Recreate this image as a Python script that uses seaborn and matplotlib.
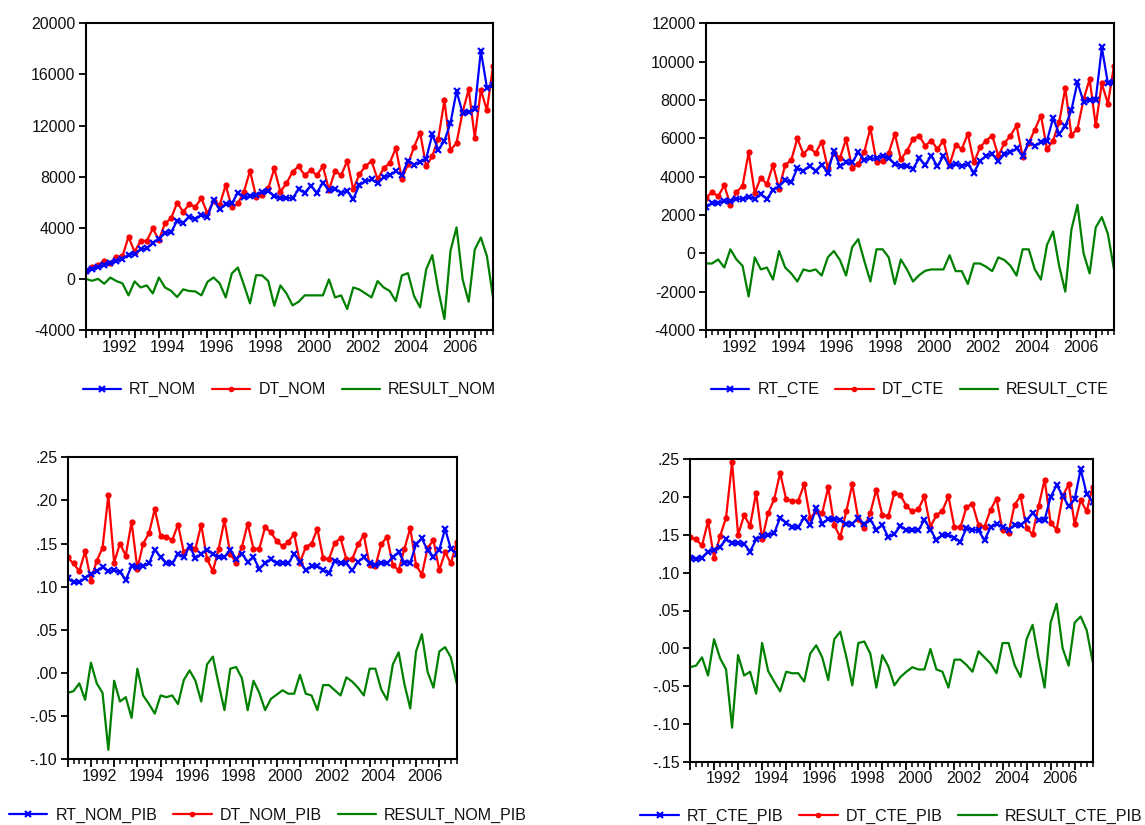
import numpy as np
import pandas as pd
import matplotlib
matplotlib.use("Agg")
import matplotlib.pyplot as plt
import seaborn as sns
from matplotlib.lines import Line2D
from matplotlib.ticker import FuncFormatter

# Quarterly sample 1991Q1 - 2007Q4
quarters = pd.period_range("1991Q1", "2007Q4", freq="Q")

# Nominal revenue, expenditure and balance
rt_nom = [600, 780, 950, 1060, 1250, 1420, 1550, 1900, 1950, 2320,
          2380, 2820, 3150, 3600, 3650, 4550, 4400, 4870, 4660, 5020,
          4850, 6200, 5430, 5850, 5900, 6750, 6380, 6450, 6600, 6800,
          6900, 6450, 6330, 6340, 6300, 7020, 6750, 7280, 6750, 7520,
          6950, 7020, 6750, 6850, 6250, 7350, 7630, 7780, 7500, 7950,
          8120, 8420, 8120, 9250, 8950, 9180, 9400, 11300, 10100, 10800,
          12200, 14680, 12980, 13080, 13300, 17850, 14970, 15200]
dt_nom = [650, 950, 1080, 1420, 1210, 1680, 1780, 3290, 2120, 2980,
          2960, 3950, 3040, 4340, 4730, 5960, 5250, 5830, 5650, 6300,
          5120, 6110, 5770, 7340, 5590, 5900, 6820, 8450, 6430, 6560,
          7080, 8640, 6820, 7470, 8380, 8810, 8110, 8500, 8110, 8810,
          6960, 8450, 8110, 9230, 7000, 8190, 8810, 9230, 7800, 8640,
          9080, 10220, 7850, 8970, 10330, 11450, 8810, 9600, 10980, 13980,
          10070, 10640, 13070, 14820, 11040, 14770, 13200, 16640]
result_nom = [0, -150, 0, -380, 100, -170, -350, -1290, -200, -670,
              -510, -1140, 110, -670, -930, -1420, -820, -950, -980, -1290,
              -230, 110, -350, -1450, 420, 890, -480, -1920, 290, 270,
              -170, -2100, -510, -1140, -2070, -1790, -1290, -1290, -1290, -1290,
              -40, -1450, -1290, -2360, -670, -830, -1140, -1450, -170, -670,
              -950, -1740, 270, 450, -1340, -2230, 740, 1860, -900, -3140,
              2200, 4030, -40, -1790, 2300, 3240, 1780, -1450]

# Constant-price revenue, expenditure and balance
rt_cte = [2400, 2630, 2630, 2720, 2720, 2840, 2840, 2940, 2840, 3070,
          2840, 3300, 3510, 3800, 3700, 4440, 4300, 4560, 4300, 4630,
          4210, 5350, 4530, 4740, 4740, 5260, 4870, 4950, 4950, 5090,
          4950, 4650, 4560, 4560, 4420, 4950, 4620, 5090, 4530, 5090,
          4530, 4650, 4560, 4650, 4210, 4820, 5090, 5170, 4820, 5170,
          5260, 5470, 5090, 5790, 5610, 5790, 5880, 7050, 6230, 6630,
          7460, 8920, 7900, 8020, 8020, 10740, 8860, 8950]
dt_cte = [2900, 3190, 2980, 3540, 2540, 3190, 3510, 5260, 3150, 3950,
          3600, 4610, 3370, 4610, 4860, 6000, 5180, 5530, 5230, 5830,
          4470, 5230, 4980, 5950, 4470, 4650, 5300, 6530, 4740, 4820,
          5230, 6230, 4910, 5350, 5960, 6140, 5610, 5880, 5440, 5880,
          4610, 5660, 5440, 6230, 4740, 5530, 5880, 6140, 5090, 5740,
          6140, 6670, 5040, 5750, 6450, 7190, 5440, 5880, 6840, 8630,
          6170, 6490, 8030, 9080, 6670, 8860, 7810, 9790]
result_cte = [-530, -530, -320, -740, 210, -320, -650, -2250, -210, -840,
              -740, -1370, 120, -740, -1050, -1470, -840, -930, -840, -1160,
              -210, 120, -350, -1160, 320, 740, -400, -1470, 210, 210,
              -210, -1600, -320, -840, -1470, -1140, -910, -840, -840, -840,
              -100, -930, -930, -1600, -530, -530, -700, -930, -210, -350,
              -650, -1160, 210, 210, -840, -1370, 440, 1140, -670, -2000,
              1230, 2530, 0, -1050, 1350, 1890, 1010, -840]

# Nominal series as share of GDP
rt_nom_pib = [0.110, 0.105, 0.105, 0.110, 0.115, 0.118, 0.123, 0.118, 0.119, 0.117,
              0.108, 0.124, 0.123, 0.124, 0.127, 0.143, 0.134, 0.128, 0.127, 0.138,
              0.134, 0.147, 0.133, 0.138, 0.143, 0.138, 0.134, 0.134, 0.143, 0.132,
              0.138, 0.129, 0.134, 0.121, 0.127, 0.132, 0.127, 0.127, 0.127, 0.138,
              0.129, 0.119, 0.124, 0.124, 0.119, 0.116, 0.130, 0.128, 0.127, 0.119,
              0.129, 0.134, 0.127, 0.125, 0.128, 0.127, 0.134, 0.140, 0.128, 0.128,
              0.149, 0.156, 0.142, 0.135, 0.143, 0.167, 0.144, 0.138]
dt_nom_pib = [0.134, 0.127, 0.118, 0.141, 0.107, 0.130, 0.145, 0.206, 0.128, 0.150,
              0.136, 0.175, 0.121, 0.150, 0.162, 0.190, 0.159, 0.158, 0.154, 0.172,
              0.140, 0.146, 0.144, 0.172, 0.132, 0.118, 0.144, 0.177, 0.138, 0.128,
              0.146, 0.173, 0.144, 0.144, 0.169, 0.163, 0.153, 0.147, 0.152, 0.161,
              0.128, 0.146, 0.150, 0.167, 0.133, 0.132, 0.151, 0.156, 0.132, 0.132,
              0.149, 0.160, 0.125, 0.124, 0.149, 0.158, 0.125, 0.119, 0.144, 0.168,
              0.125, 0.114, 0.145, 0.154, 0.119, 0.140, 0.127, 0.152]
result_nom_pib = [-0.023, -0.021, -0.012, -0.031, 0.012, -0.012, -0.023, -0.089, -0.009, -0.033,
                  -0.028, -0.052, 0.005, -0.026, -0.036, -0.047, -0.026, -0.028, -0.026, -0.036,
                  -0.008, 0.003, -0.009, -0.033, 0.010, 0.019, -0.013, -0.043, 0.005, 0.007,
                  -0.006, -0.043, -0.009, -0.023, -0.043, -0.030, -0.025, -0.020, -0.024, -0.024,
                  -0.002, -0.024, -0.026, -0.043, -0.014, -0.014, -0.020, -0.026, -0.005, -0.010,
                  -0.017, -0.026, 0.005, 0.005, -0.019, -0.031, 0.010, 0.024, -0.013, -0.041,
                  0.025, 0.045, 0.001, -0.017, 0.025, 0.030, 0.018, -0.012]

# Constant-price series as share of GDP
rt_cte_pib = [0.120, 0.118, 0.120, 0.128, 0.130, 0.134, 0.144, 0.139, 0.139, 0.138,
              0.128, 0.144, 0.148, 0.150, 0.152, 0.173, 0.166, 0.160, 0.160, 0.173,
              0.163, 0.185, 0.165, 0.171, 0.171, 0.170, 0.165, 0.165, 0.172, 0.164,
              0.170, 0.157, 0.163, 0.147, 0.151, 0.162, 0.156, 0.156, 0.156, 0.170,
              0.157, 0.143, 0.150, 0.150, 0.146, 0.141, 0.159, 0.157, 0.156, 0.143,
              0.160, 0.165, 0.160, 0.157, 0.163, 0.163, 0.170, 0.179, 0.170, 0.170,
              0.200, 0.216, 0.202, 0.188, 0.197, 0.237, 0.204, 0.194]
dt_cte_pib = [0.147, 0.144, 0.136, 0.168, 0.120, 0.148, 0.173, 0.246, 0.150, 0.176,
              0.162, 0.206, 0.144, 0.179, 0.197, 0.232, 0.197, 0.195, 0.195, 0.217,
              0.172, 0.182, 0.179, 0.213, 0.163, 0.147, 0.181, 0.217, 0.171, 0.159,
              0.179, 0.210, 0.176, 0.175, 0.206, 0.203, 0.188, 0.181, 0.184, 0.201,
              0.161, 0.176, 0.182, 0.201, 0.160, 0.160, 0.187, 0.191, 0.163, 0.161,
              0.183, 0.198, 0.156, 0.152, 0.190, 0.201, 0.159, 0.151, 0.188, 0.223,
              0.166, 0.157, 0.201, 0.217, 0.164, 0.196, 0.181, 0.214]
result_cte_pib = [-0.025, -0.023, -0.012, -0.036, 0.012, -0.013, -0.028, -0.105, -0.009, -0.036,
                  -0.031, -0.060, 0.007, -0.030, -0.044, -0.057, -0.031, -0.033, -0.033, -0.044,
                  -0.007, 0.004, -0.012, -0.042, 0.012, 0.022, -0.011, -0.049, 0.007, 0.009,
                  -0.007, -0.052, -0.009, -0.024, -0.049, -0.038, -0.031, -0.025, -0.028, -0.028,
                  -0.001, -0.028, -0.031, -0.052, -0.015, -0.015, -0.022, -0.031, -0.004, -0.012,
                  -0.020, -0.033, 0.007, 0.007, -0.022, -0.038, 0.012, 0.031, -0.013, -0.052,
                  0.034, 0.059, 0.000, -0.023, 0.034, 0.042, 0.024, -0.018]

BLUE, RED, GREEN = "#0000FF", "#FF0000", "#008000"

sns.set_style("ticks")
plt.rcParams["font.family"] = ["Liberation Sans", "DejaVu Sans"]
plt.rcParams["font.size"] = 11.5
plt.rcParams["text.color"] = "#111111"
plt.rcParams["xtick.color"] = "black"
plt.rcParams["ytick.color"] = "black"
plt.rcParams["xtick.labelcolor"] = "#111111"
plt.rcParams["ytick.labelcolor"] = "#111111"

fig = plt.figure(figsize=(11.45, 8.25), dpi=100)

# Decimal position of each quarter on the time axis
t = np.asarray(quarters.year + (quarters.quarter - 1) / 4.0, dtype=float)
years = np.arange(1991, 2008)
label_years = np.arange(1992, 2007, 2)


def decimal_fmt(v, pos):
    return f"{v:.2f}".replace("0.", ".")


def int_fmt(v, pos):
    return f"{int(round(v))}"


def draw_panel(rect, rt, dt, res, names, yticks, fmt, legend_xy):
    ax = fig.add_axes(rect)
    df = pd.DataFrame({"t": t, names[0]: rt, names[1]: dt, names[2]: res})
    sns.lineplot(data=df, x="t", y=names[2], ax=ax, color=GREEN, lw=1.6)
    sns.lineplot(data=df, x="t", y=names[1], ax=ax, color=RED, lw=1.6,
                 marker="o", markersize=4.5, markeredgewidth=0,
                 markerfacecolor=RED, markeredgecolor=RED)
    sns.lineplot(data=df, x="t", y=names[0], ax=ax, color=BLUE, lw=1.6,
                 marker="x", markersize=4.5, markeredgewidth=1.6,
                 markeredgecolor=BLUE)

    ax.set_xlim(t[0], t[-1])
    ax.set_ylim(yticks[0], yticks[-1])
    ax.set_xlabel("")
    ax.set_ylabel("")
    ax.set_yticks(yticks)
    ax.yaxis.set_major_formatter(FuncFormatter(fmt))
    ax.tick_params(axis="y", direction="out", length=5, width=1.3, pad=2.5)

    # quarter ticks plus longer year ticks
    ax.set_xticks(years)
    ax.set_xticks(t, minor=True)
    ax.xaxis.set_major_formatter(FuncFormatter(lambda v, p: ""))
    ax.tick_params(axis="x", which="major", direction="out", length=6, width=1.3)
    ax.tick_params(axis="x", which="minor", direction="out", length=3.5, width=1.1)

    # year labels centred under each labelled year
    sec = ax.secondary_xaxis("bottom")
    sec.set_xticks(label_years + 0.375, labels=[str(y) for y in label_years])
    sec.tick_params(length=0, pad=7)
    sec.spines["bottom"].set_visible(False)

    for sp in ax.spines.values():
        sp.set_visible(True)
        sp.set_linewidth(1.5)
        sp.set_color("black")

    handles = [
        Line2D([], [], color=BLUE, lw=1.6, marker="x", markersize=4.5,
               markeredgewidth=1.6, markeredgecolor=BLUE),
        Line2D([], [], color=RED, lw=1.6, marker="o", markersize=4,
               markeredgewidth=0, markerfacecolor=RED),
        Line2D([], [], color=GREEN, lw=1.6),
    ]
    ax.legend(handles, names, loc="center", bbox_to_anchor=legend_xy, ncol=3,
              frameon=False, handlelength=2.4, handletextpad=0.5, columnspacing=1.0,
              fontsize=11.5)
    return ax


W, H = 1145.0, 825.0


def rect(left, top, right, bottom):
    return [left / W, 1 - bottom / H, (right - left) / W, (bottom - top) / H]


draw_panel(rect(86, 23.3, 493, 330), rt_nom, dt_nom, result_nom,
           ["RT_NOM", "DT_NOM", "RESULT_NOM"],
           np.arange(-4000, 20001, 4000), int_fmt, (0.5, -0.195))
draw_panel(rect(706, 23.3, 1114, 330), rt_cte, dt_cte, result_cte,
           ["RT_CTE", "DT_CTE", "RESULT_CTE"],
           np.arange(-4000, 12001, 2000), int_fmt, (0.5, -0.195))
draw_panel(rect(67.7, 457.3, 456.7, 759.3), rt_nom_pib, dt_nom_pib, result_nom_pib,
           ["RT_NOM_PIB", "DT_NOM_PIB", "RESULT_NOM_PIB"],
           np.round(np.arange(-0.10, 0.2501, 0.05), 2), decimal_fmt, (0.515, -0.185))
draw_panel(rect(690, 459.3, 1092.7, 761.7), rt_cte_pib, dt_cte_pib, result_cte_pib,
           ["RT_CTE_PIB", "DT_CTE_PIB", "RESULT_CTE_PIB"],
           np.round(np.arange(-0.15, 0.2501, 0.05), 2), decimal_fmt, (0.5, -0.18))

fig.savefig("out.png", dpi=100)
